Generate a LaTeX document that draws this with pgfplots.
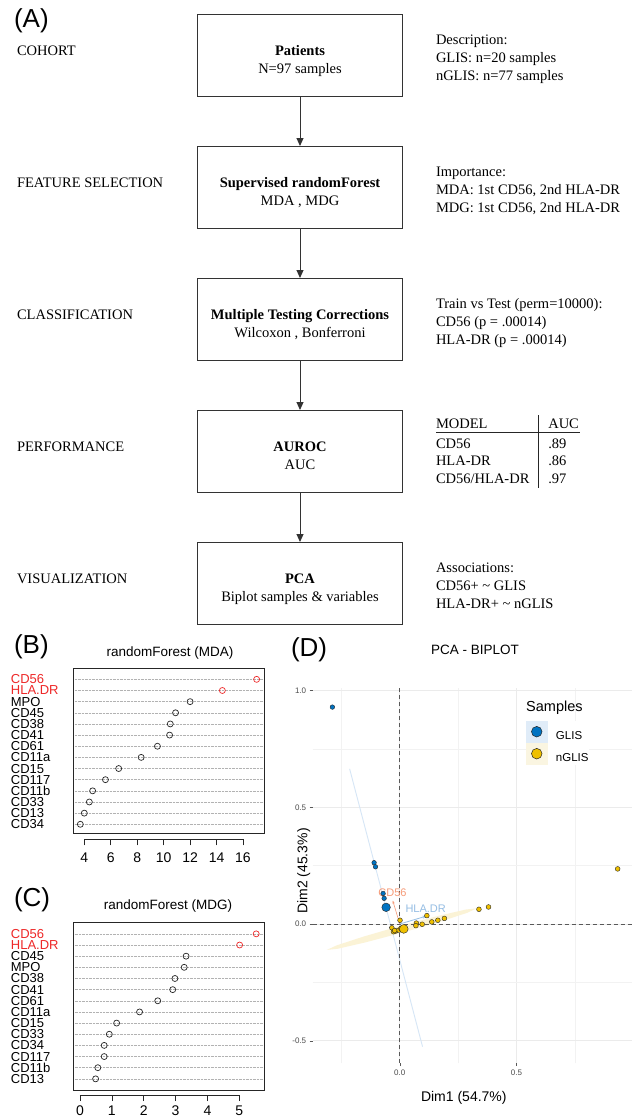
\documentclass[border=0pt]{standalone}
\usepackage{fontspec}
\setmainfont{Liberation Serif}
\newfontfamily\sans{Liberation Sans}
\usepackage{pgfplots}
\pgfplotsset{compat=1.18, /pgf/number format/assume math mode=true}
\usetikzlibrary{arrows.meta}
\newcommand\fs[1]{\fontsize{#1}{#1}\selectfont}
\definecolor{jblue}{HTML}{0073C2}
\definecolor{jyel}{HTML}{EFC000}
\definecolor{rred}{RGB}{238,40,40}
\definecolor{gridc}{RGB}{235,235,235}
\definecolor{gridm}{RGB}{242,242,242}
\definecolor{ellY}{RGB}{251,243,214}
\definecolor{ellB}{RGB}{214,230,246}
\definecolor{salmon}{RGB}{246,155,120}
\definecolor{lblue}{RGB}{150,190,228}
\definecolor{legB}{RGB}{224,236,248}
\definecolor{legY}{RGB}{250,245,225}
\begin{document}
\begin{tikzpicture}[x=1pt,y=1pt]
\fill[white] (0,0) rectangle (632,-1119);
% ---------------- Panel A ----------------
\begin{scope}[every node/.style={inner sep=0pt,outer sep=0pt}]
\foreach \t in {14,146,278,410,542} {\draw[line width=1pt, black!80] (197.3,-\t) rectangle (402.7,-\t-82);}
\foreach \t in {96,228,360,492} {\draw[line width=1pt, black!80, -{Triangle[length=8pt,width=7pt]}] (300,-\t) -- (300,-\t-50);}
\node[anchor=base west, font=\sans\fs{26}] at (14,-27) {(A)};
\begin{scope}[every node/.append style={font=\fs{14.5}}]
\node[anchor=base west] at (17,-55) {COHORT};
\node[anchor=base west] at (17,-187) {FEATURE SELECTION};
\node[anchor=base west] at (17,-319) {CLASSIFICATION};
\node[anchor=base west] at (17,-451) {PERFORMANCE};
\node[anchor=base west] at (17,-583) {VISUALIZATION};
\node[anchor=base, font=\bfseries\fs{14.5}] at (300,-55) {Patients};
\node[anchor=base] at (300,-73) {N=97 samples};
\node[anchor=base, font=\bfseries\fs{14.5}] at (300,-187) {Supervised randomForest};
\node[anchor=base] at (300,-205) {MDA , MDG};
\node[anchor=base, font=\bfseries\fs{14.5}] at (300,-319) {Multiple Testing Corrections};
\node[anchor=base] at (300,-337) {Wilcoxon , Bonferroni};
\node[anchor=base, font=\bfseries\fs{14.5}] at (300,-451) {AUROC};
\node[anchor=base] at (300,-469) {AUC};
\node[anchor=base, font=\bfseries\fs{14.5}] at (300,-583) {PCA};
\node[anchor=base] at (300,-601) {Biplot samples \& variables};
\node[anchor=base west] at (436,-44.5) {Description:};
\node[anchor=base west] at (436,-62.3) {GLIS: n=20 samples};
\node[anchor=base west] at (436,-80.2) {nGLIS: n=77 samples};
\node[anchor=base west] at (436,-176.5) {Importance:};
\node[anchor=base west] at (436,-194.3) {MDA: 1st CD56, 2nd HLA-DR};
\node[anchor=base west] at (436,-212.2) {MDG: 1st CD56, 2nd HLA-DR};
\node[anchor=base west] at (436,-308.5) {Train vs Test (perm=10000):};
\node[anchor=base west] at (436,-326.3) {CD56 (p = .00014)};
\node[anchor=base west] at (436,-344.2) {HLA-DR (p = .00014)};
\node[anchor=base west] at (436,-428.3) {MODEL};
\node[anchor=base west] at (548.3,-428.3) {AUC};
\node[anchor=base west] at (436,-448.3) {CD56};
\node[anchor=base west] at (548.3,-448.3) {.89};
\node[anchor=base west] at (436,-465.7) {HLA-DR};
\node[anchor=base west] at (548.3,-465.7) {.86};
\node[anchor=base west] at (436,-483.3) {CD56/HLA-DR};
\node[anchor=base west] at (548.3,-483.3) {.97};
\node[anchor=base west] at (436,-572.5) {Associations:};
\node[anchor=base west] at (436,-590.3) {CD56+ \textasciitilde\ GLIS};
\node[anchor=base west] at (436,-608.2) {HLA-DR+ \textasciitilde\ nGLIS};
\end{scope}
\draw[line width=0.8pt, black!85] (436,-432.7) -- (580.3,-432.7);
\draw[line width=0.8pt, black!85] (538.3,-415) -- (538.3,-487.7);
% titles / panel labels
\node[anchor=base west, font=\sans\fs{26}] at (14,-653) {(B)};
\node[anchor=base west, font=\sans\fs{26}] at (14,-906) {(C)};
\node[anchor=base west, font=\sans\fs{26}] at (291,-656) {(D)};
\node[anchor=base, font=\sans\fs{13.5}] at (170,-656) {randomForest (MDA)};
\node[anchor=base, font=\sans\fs{13.5}] at (168,-909) {randomForest (MDG)};
\node[anchor=base, font=\sans\fs{13.5}] at (475,-654) {PCA - BIPLOT};
\node[anchor=center, font=\sans\fs{14}] at (463.8,-1098) {Dim1 (54.7\%)};
\node[anchor=center, rotate=90, font=\sans\fs{14}] at (303.7,-871) {Dim2 (45.3\%)};
\end{scope}
% ---------------- Panel B ----------------
\begin{axis}[
 at={(73.3pt,-668.3pt)}, anchor=north west, scale only axis, width=190.7pt, height=165pt,
 xmin=3.168, xmax=17.588, ymin=0.19, ymax=14.99,
 axis line style={line width=0.8pt, black!85},
 xtick={4,6,...,16}, xtick pos=bottom,
 ytick={1,...,14}, ytick style={draw=none},
 yticklabels={CD34,CD13,CD33,CD11b,CD117,CD15,CD11a,CD61,CD41,CD38,CD45,MPO,\textcolor{rred}{HLA.DR},\textcolor{rred}{CD56}},
 ymajorgrids, grid style={densely dotted, gray!60, line width=0.5pt},
 tick align=outside, major tick length=6pt,
 xtick style={black!85, line width=0.6pt, yshift=-6pt},
 xticklabel style={font=\sans\fs{14}, yshift=-10pt},
 yticklabel style={font=\sans\fs{13}, anchor=west, inner sep=0pt, xshift=-56.6pt},
 clip=false]
\addplot[only marks, mark=o, mark size=3pt, line width=0.7pt, black!85] coordinates {
(3.70,1) (4.00,2) (4.38,3) (4.63,4) (5.60,5) (6.60,6) (8.30,7) (9.53,8) (10.45,9) (10.50,10) (10.90,11) (12.00,12)};
\addplot[only marks, mark=o, mark size=3pt, line width=0.7pt, rred] coordinates {(14.44,13) (17.03,14)};
\draw[line width=0.6pt, black!85] ([yshift=-6pt]axis cs:4,0.19) -- ([yshift=-6pt]axis cs:16,0.19);
\end{axis}
% ---------------- Panel C ----------------
\begin{axis}[
 at={(73.3pt,-922.7pt)}, anchor=north west, scale only axis, width=190.7pt, height=167.3pt,
 xmin=-0.21, xmax=5.775, ymin=0.0, ymax=15.0,
 axis line style={line width=0.8pt, black!85},
 xtick={0,1,...,5}, xtick pos=bottom,
 ytick={1,...,14}, ytick style={draw=none},
 yticklabels={CD13,CD11b,CD117,CD34,CD33,CD15,CD11a,CD61,CD41,CD38,MPO,CD45,\textcolor{rred}{HLA.DR},\textcolor{rred}{CD56}},
 ymajorgrids, grid style={densely dotted, gray!60, line width=0.5pt},
 tick align=outside, major tick length=6pt,
 xtick style={black!85, line width=0.6pt, yshift=-5pt},
 xticklabel style={font=\sans\fs{14}, yshift=-6pt},
 yticklabel style={font=\sans\fs{13}, anchor=west, inner sep=0pt, xshift=-56.6pt},
 clip=false]
\addplot[only marks, mark=o, mark size=3pt, line width=0.7pt, black!85] coordinates {
(0.49,1) (0.56,2) (0.76,3) (0.76,4) (0.92,5) (1.15,6) (1.87,7) (2.44,8) (2.91,9) (2.98,10) (3.27,11) (3.33,12)};
\addplot[only marks, mark=o, mark size=3pt, line width=0.7pt, rred] coordinates {(5.01,13) (5.53,14)};
\draw[line width=0.6pt, black!85] ([yshift=-5pt]axis cs:0,0) -- ([yshift=-5pt]axis cs:5,0);
\end{axis}
% ---------------- Panel D ----------------
\begin{axis}[
 at={(312.7pt,-688pt)}, anchor=north west, scale only axis, width=319.3pt, height=375pt,
 xmin=-0.3729, xmax=0.9944, ymin=-0.5953, ymax=1.0107,
 axis line style={draw=none},
 xtick={0,0.5}, xticklabels={0.0,0.5}, ytick={-0.5,0,0.5,1}, yticklabels={-0.5,0.0,0.5,1.0},
 minor xtick={-0.25,0.25,0.75}, minor ytick={-0.25,0.25,0.75},
 grid=both, major grid style={color=gridc, line width=0.9pt}, minor grid style={color=gridm, line width=0.6pt},
 tick align=outside, major tick length=3pt, minor tick length=0pt,
 xtick pos=bottom, ytick pos=left,
 tick style={gray!70!black, line width=0.5pt},
 ticklabel style={font=\sans\fs{8}, text=gray!60!black},
 legend cell align=left,
 legend style={at={(0.6677,0.9128)}, anchor=north west, draw=none, fill=white, inner sep=0pt, outer sep=0pt, row sep=0pt, column sep=8.4pt, nodes={inner sep=0pt, font=\sans\fs{11.5}}},
]
% ellipses
\addplot[forget plot, draw=none, fill=ellY] coordinates {
(0.329,0.0669) (0.284,0.0622) (0.1652,0.0349) (0.0045,-0.0075) (-0.1552,-0.0539) (-0.271,-0.0918)
(-0.312,-0.1109) (-0.267,-0.1062) (-0.1482,-0.0789) (0.0125,-0.0365) (0.1722,0.0099) (0.288,0.0478)} -- cycle;
\addplot[forget plot, ellB, line width=0.9pt] coordinates {(-0.2147,0.6643) (0.0975,-0.5255)};
% reference lines
\addplot[forget plot, dashed, dash pattern=on 4pt off 3pt, black!65, line width=0.9pt] coordinates {(0,-0.5953) (0,1.0107)};
\addplot[forget plot, dashed, dash pattern=on 4pt off 3pt, black!65, line width=0.9pt] coordinates {(-0.3729,0) (0.9944,0)};
% variable arrows
\addplot[forget plot, salmon, line width=0.6pt, -{Stealth[length=3pt]}] coordinates {(0,0) (-0.03,0.1)};
\addplot[forget plot, lblue, line width=0.8pt, -{Stealth[length=4pt]}] coordinates {(0,0) (0.114,0.034)};
\node[font=\sans\fs{11}, text=salmon] at (axis cs:-0.031,0.136) {CD56};
\node[font=\sans\fs{11}, text=lblue] at (axis cs:0.111,0.064) {HLA.DR};
% points
\addplot[only marks, mark=*, mark size=2.3pt, mark options={fill=jblue, draw=black!85, line width=0.4pt},
 legend image code/.code={\fill[legB] (0pt,-6.7pt) rectangle (21.3pt,14.9pt); \draw[fill=jblue, draw=black!85, line width=0.5pt] (10.65pt,4.1pt) circle (5.3pt);}]
 coordinates {(-0.2886,0.929) (-0.110,0.2626) (-0.104,0.245) (-0.0714,0.131) (-0.067,0.110)};
\addlegendentry{GLIS}
\addplot[only marks, mark=*, mark size=2.4pt, mark options={fill=jyel, draw=black!85, line width=0.4pt},
 legend image code/.code={\fill[legY] (0pt,-6.7pt) rectangle (21.3pt,14.9pt); \draw[fill=jyel, draw=black!85, line width=0.5pt] (10.65pt,4.1pt) circle (5.3pt);}]
 coordinates {(0.933,0.236) (0.380,0.073) (0.339,0.063) (0.191,0.024) (0.163,0.016) (0.137,0.009) (0.116,0.036)
 (0.096,-0.001) (0.071,0.004) (0.069,-0.007) (0.001,0.016) (-0.034,-0.016) (-0.027,-0.033) (-0.017,-0.030)
 (-0.004,-0.026) (-0.022,-0.028) (0.005,-0.020)};
\addlegendentry{nGLIS}
\addplot[forget plot, only marks, mark=*, mark size=4.3pt, mark options={fill=jblue, draw=black!85, line width=0.4pt}] coordinates {(-0.0586,0.0715)};
\addplot[forget plot, only marks, mark=*, mark size=4.4pt, mark options={fill=jyel, draw=black!85, line width=0.4pt}] coordinates {(0.017,-0.021)};
\end{axis}
\node[anchor=base west, inner sep=0pt, font=\sans\fs{14.5}] at (526,-711.7) {Samples};
\pgfresetboundingbox
\path[use as bounding box] (0,0) rectangle (632,-1119);
\end{tikzpicture}
\end{document}
